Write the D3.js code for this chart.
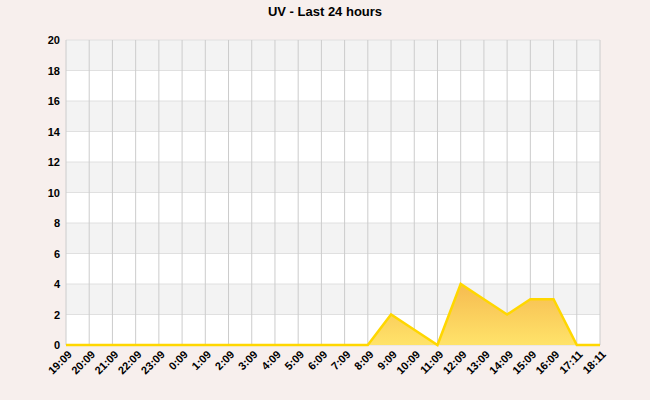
<!DOCTYPE html><html><head><script src="https://cdn.jsdelivr.net/npm/d3@7"></script>
<style>body{margin:0;background:#f7efed}</style></head><body><svg width="650" height="400"></svg><script>
const categories=["19:09","20:09","21:09","22:09","23:09","0:09","1:09","2:09","3:09","4:09","5:09","6:09","7:09","8:09","9:09","10:09","11:09","12:09","13:09","14:09","15:09","16:09","17:11","18:11"];
const uv=[0,0,0,0,0,0,0,0,0,0,0,0,0,0,2,1,0,4,3,2,3,3,0,0];
const yTicks=[0,2,4,6,8,10,12,14,16,18,20];
const svg=d3.select("svg");
const L=66,R=600,T=40,B=345;
const x=d3.scalePoint().domain(categories).range([L,R]);
const y=d3.scaleLinear().domain([0,20]).range([B,T]);
svg.append("rect").attr("width",650).attr("height",400).attr("fill","#f7efed");
for(let i=0;i<10;i++){svg.append("rect").attr("x",L).attr("width",R-L).attr("y",y(yTicks[i+1])).attr("height",y(yTicks[i])-y(yTicks[i+1])).attr("fill",i%2?"#f3f3f3":"#ffffff");}
yTicks.forEach(t=>svg.append("line").attr("x1",L).attr("x2",R).attr("y1",y(t)).attr("y2",y(t)).attr("stroke","#e0e0e0"));
categories.forEach(c=>svg.append("line").attr("x1",x(c)).attr("x2",x(c)).attr("y1",T).attr("y2",B).attr("stroke","#cccccc"));
const defs=svg.append("defs");const g=defs.append("linearGradient").attr("id","gr").attr("x1",0).attr("x2",0).attr("y1",0).attr("y2",1).attr("gradientUnits","userSpaceOnUse").attr("y1",y(4)).attr("y2",B).attr("x1",0).attr("x2",0);
g.append("stop").attr("offset",0).attr("stop-color","#f6bb50");g.append("stop").attr("offset",1).attr("stop-color","#ffe36a");
const data=categories.map((c,i)=>[c,uv[i]]);
svg.append("path").datum(data).attr("d",d3.area().x(d=>x(d[0])).y0(B).y1(d=>y(d[1]))).attr("fill","url(#gr)");
svg.append("path").datum(data).attr("d",d3.line().x(d=>x(d[0])).y(d=>y(d[1]))).attr("fill","none").attr("stroke","#ffd700").attr("stroke-width",2.5);
const ya=svg.append("g").attr("transform",`translate(${L},0)`).call(d3.axisLeft(y).tickValues(yTicks).tickSize(0).tickPadding(6));
ya.select(".domain").remove();ya.selectAll("text").attr("font-family","Liberation Sans, Arial").attr("font-size",11).attr("font-weight","bold").attr("fill","#000");
const xa=svg.append("g").attr("transform",`translate(0,${B})`).call(d3.axisBottom(x).tickSize(0));
xa.select(".domain").remove();
xa.selectAll("text").attr("font-family","Liberation Sans, Arial").attr("font-size",11).attr("font-weight","bold").attr("fill","#000").attr("text-anchor","end").attr("dy",0).attr("transform","translate(4,8) rotate(-45)");
svg.append("text").attr("x",325).attr("y",16).attr("text-anchor","middle").attr("font-family","Liberation Sans, Arial").attr("font-size",13).attr("font-weight","bold").text("UV - Last 24 hours");
</script></body></html>
